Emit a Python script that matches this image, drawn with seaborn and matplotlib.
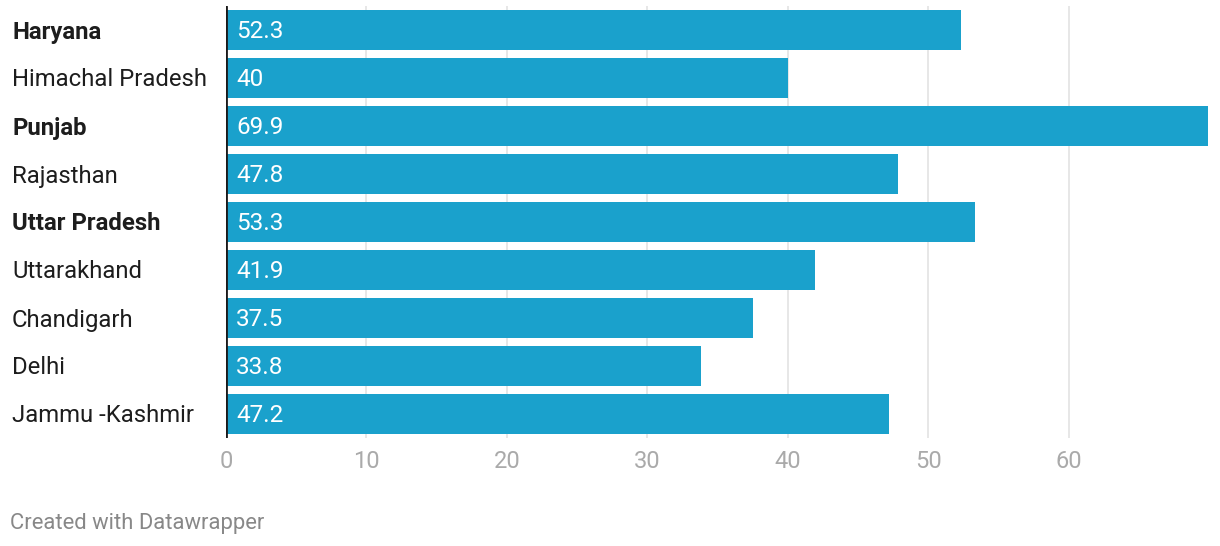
import matplotlib
matplotlib.use("Agg")
import matplotlib.pyplot as plt
import seaborn as sns
import pandas as pd

states = ["Haryana", "Himachal Pradesh", "Punjab", "Rajasthan", "Uttar Pradesh",
          "Uttarakhand", "Chandigarh", "Delhi", "Jammu -Kashmir"]
values = [52.3, 40, 69.9, 47.8, 53.3, 41.9, 37.5, 33.8, 47.2]
value_labels = ["52.3", "40", "69.9", "47.8", "53.3", "41.9", "37.5", "33.8", "47.2"]
bold_states = ["Haryana", "Punjab", "Uttar Pradesh"]
x_ticks = [0, 10, 20, 30, 40, 50, 60]

sns.set_theme(style="white")
plt.rcParams['font.family'] = ['Roboto', 'DejaVu Sans']

df = pd.DataFrame({"state": states, "value": values})

fig = plt.figure(figsize=(12.2, 5.46), dpi=100)
ax = fig.add_axes([226/1220, 1-438/546, (1208-226)/1220, (438-6)/546])

sns.barplot(data=df, y="state", x="value", orient="h", color="#1aa1cc",
            saturation=1, width=0.83, ax=ax, zorder=3)
for p in ax.patches:
    p.set_edgecolor("none")

ax.set_xlim(0, 69.9)
ax.set_ylim(8.5, -0.5)
ax.set_xticks(x_ticks)
ax.set_xticklabels([str(t) for t in x_ticks])
ax.set_xlabel("")
ax.set_ylabel("")
for t in x_ticks[1:]:
    ax.axvline(t, color="#e3e3e3", lw=1.2, zorder=1)
ax.axvline(0, color="#1a1a1a", lw=2, zorder=4)

for s in ax.spines.values():
    s.set_visible(False)
ax.tick_params(axis="x", length=0, pad=9, labelsize=17, labelcolor="#aaaaaa")
ax.tick_params(axis="y", length=0)
ax.set_yticklabels([])

for i, (st, lab) in enumerate(zip(states, value_labels)):
    ax.annotate(lab, xy=(0, i), xycoords="data",
                xytext=(10, -2), textcoords="offset pixels",
                color="white", fontsize=17.5, va="center", ha="left", zorder=5)
    ax.annotate(st, xy=(0, i), xycoords=("figure fraction", "data"),
                xytext=(12, -2), textcoords="offset pixels",
                va="center", ha="left", fontsize=17.2, color="#1d1d1d",
                fontweight="bold" if st in bold_states else "normal")

fig.text(10/1220, 1-523/546, "Created with Datawrapper", fontsize=15.8,
         color="#888888", va="center", ha="left")

fig.savefig("out.png", dpi=100)
